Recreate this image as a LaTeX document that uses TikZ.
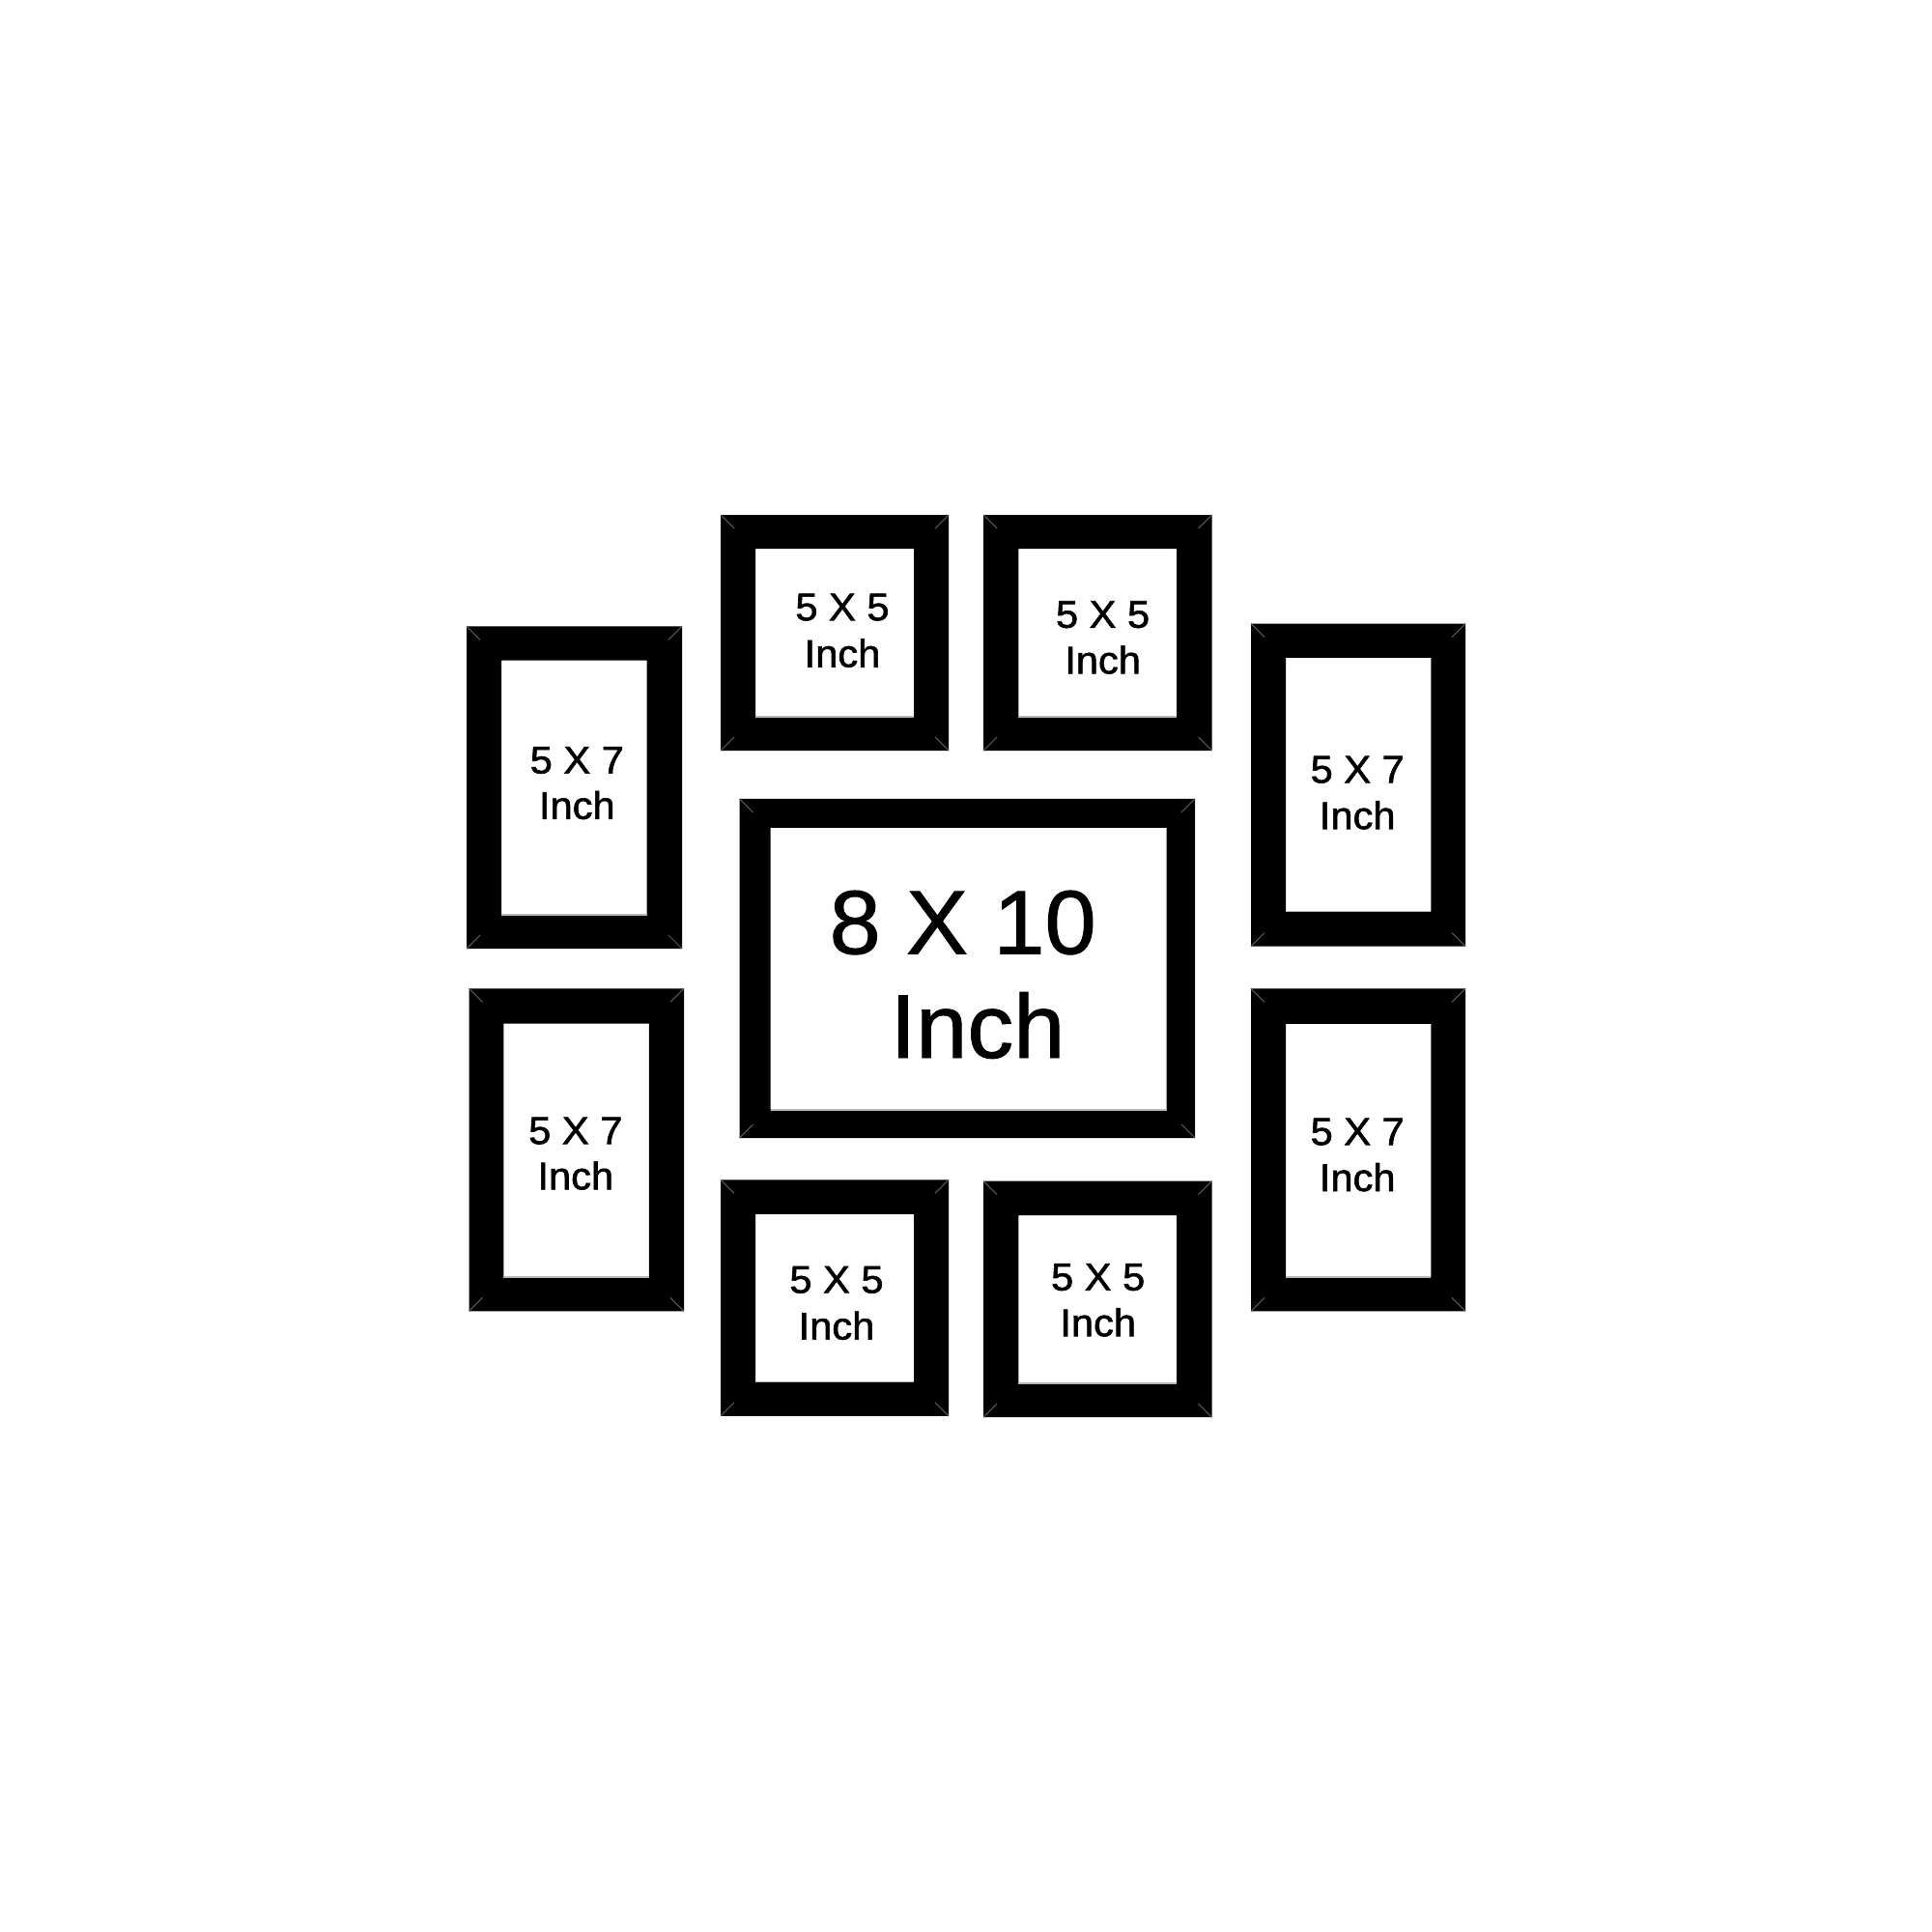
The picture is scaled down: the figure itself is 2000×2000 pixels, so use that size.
\documentclass[tikz,border=0pt]{standalone}
\usepackage{fontspec}
\setmainfont{Liberation Sans}
\newfontfamily\smallf[FakeStretch=1.04, FakeBold=1.5]{Liberation Sans}
\newfontfamily\bigf[FakeStretch=1.02, FakeBold=1.0]{Liberation Sans}
\newcommand\pframe[9]{%
  \fill[black, even odd rule] (#2,#3) rectangle (#4,#5) (#6,#7) rectangle (#8,#9);
  \draw[miter] (#2,#3) -- ++(14,14);
  \draw[miter] (#4,#3) -- ++(-14,14);
  \draw[miter] (#2,#5) -- ++(14,-14);
  \draw[miter] (#4,#5) -- ++(-14,-14);
  \draw[seam] (#6,#9) -- (#8,#9);
}
\tikzset{
  miter/.style={draw=black!65, line width=0.3pt},
  seam/.style={draw=gray!55, line width=0.5pt},
  smalllabel/.style={anchor=base, inner sep=0pt, font=\smallf\fontsize{11.38}{13}\selectfont},
  biglabel/.style={anchor=base, inner sep=0pt, font=\bigf\fontsize{26.63}{30}\selectfont},
}
\begin{document}
\begin{tikzpicture}[x=0.01cm, y=-0.01cm]
\useasboundingbox[fill=white] (0,0) rectangle (2000,2000);
% frames
\pframe{A}{746}{533}{982}{777}{782}{568}{946}{742}
\pframe{B}{1018}{533}{1254.5}{777}{1054.4}{568}{1218}{742}
\pframe{C}{483}{648.4}{706}{982}{519}{683.6}{669.7}{947}
\pframe{D}{1295}{645.7}{1517}{979.7}{1331}{680.8}{1481.4}{943.6}
\pframe{E}{765.5}{826.8}{1237}{1178}{797.5}{856.8}{1207.6}{1148.7}
\pframe{F}{485.5}{1023.3}{708}{1357.4}{521.3}{1059.5}{671.8}{1322}
\pframe{G}{1295}{1023.3}{1517}{1357.4}{1331}{1059.8}{1481.4}{1322}
\pframe{H}{746}{1221.4}{982}{1465.8}{782}{1256.8}{946}{1430.4}
\pframe{I}{1018}{1222.7}{1254.5}{1467.2}{1054.4}{1258.2}{1218}{1432.1}
% labels
\node[smalllabel] (a1) at (872,642.2) {5 X 5};
\node[smalllabel] (a2) at (872,690.5) {Inch};
\node[smalllabel] (b1) at (1141.6,649.8) {5 X 5};
\node[smalllabel] (b2) at (1141.6,697.3) {Inch};
\node[smalllabel] (c1) at (597.3,800.6) {5 X 7};
\node[smalllabel] (c2) at (597.3,847.8) {Inch};
\node[smalllabel] (d1) at (1405.2,810.3) {5 X 7};
\node[smalllabel] (d2) at (1405.2,858.2) {Inch};
\node[biglabel] (e1) at (996.7,987.3) {8 X 10};
\node[biglabel] (e2) at (1012,1095) {Inch};
\node[smalllabel] (f1) at (595.8,1184.2) {5 X 7};
\node[smalllabel] (f2) at (595.8,1231.3) {Inch};
\node[smalllabel] (g1) at (1405.2,1185.2) {5 X 7};
\node[smalllabel] (g2) at (1405.2,1233) {Inch};
\node[smalllabel] (h1) at (866,1338.4) {5 X 5};
\node[smalllabel] (h2) at (866,1386.6) {Inch};
\node[smalllabel] (i1) at (1136.7,1335.7) {5 X 5};
\node[smalllabel] (i2) at (1136.7,1383.2) {Inch};
\end{tikzpicture}
\end{document}
